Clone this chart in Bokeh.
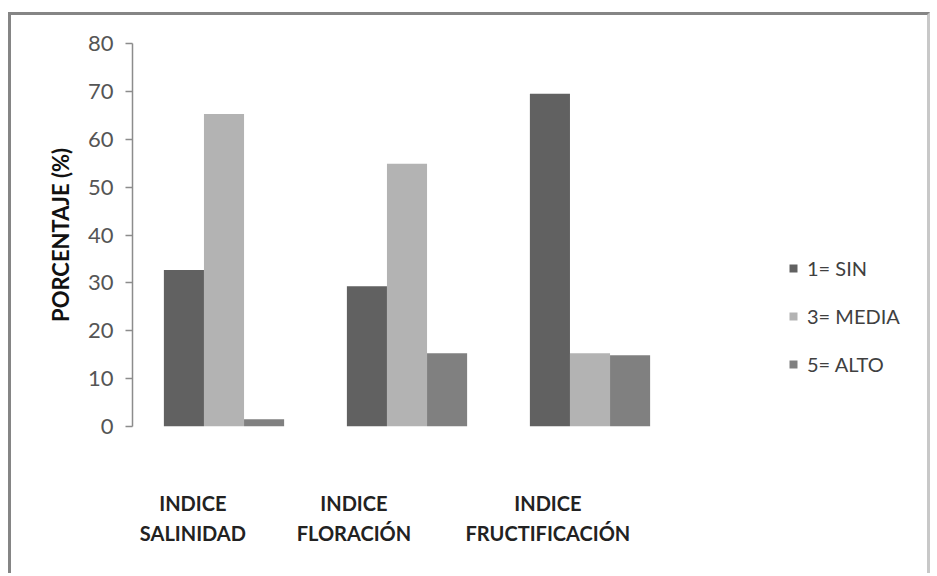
from bokeh.plotting import figure
from bokeh.models import Range1d, FixedTicker, Legend, LegendItem
from bokeh.embed import file_html
from bokeh.resources import INLINE

# Index groups along the x axis (two-line labels)
categories = ["INDICE\nSALINIDAD", "INDICE\nFLORACIÓN", "INDICE\nFRUCTIFICACIÓN"]

# Percentage of samples in each rating class
series_names = ["1= SIN", "3= MEDIA", "5= ALTO"]
sin_vals = [32.7, 29.3, 69.5]
media_vals = [65.3, 54.9, 15.3]
alto_vals = [1.5, 15.3, 14.9]

y_ticks = [0, 10, 20, 30, 40, 50, 60, 70, 80]

# styling
colors = ["#616161", "#b3b3b3", "#808080"]
bar_w = 0.219
offsets = [-bar_w, 0.0, bar_w]
label_nudge = [-0.17, -0.29, -0.23]
FONT = "Lato"

p = figure(
    width=922, height=561,
    output_backend="svg", toolbar_location=None,
    x_range=Range1d(0, 4.377), y_range=Range1d(0, 80),
    min_border_left=121, min_border_right=0,
    min_border_top=28, min_border_bottom=150,
)
p.margin = (12, 0, 0, 8)
p.styles = {
    "border-top": "3px solid #858585",
    "border-left": "3px solid #858585",
    "border-right": "3px solid #c8c8c8",
}
p.outline_line_color = None
p.xgrid.visible = False
p.ygrid.visible = False
p.background_fill_color = "white"
p.border_fill_color = "white"

items = []
for name, vals, off, col in zip(series_names, [sin_vals, media_vals, alto_vals], offsets, colors):
    xs = [i + 0.5 + off for i in range(len(vals))]
    r = p.vbar(x=xs, top=vals, width=bar_w, fill_color=col, line_color=None)
    items.append(LegendItem(label=name, renderers=[r]))

# y axis
ya = p.yaxis[0]
ya.ticker = FixedTicker(ticks=y_ticks)
ya.axis_line_color = "#8c8c8c"
ya.axis_line_width = 1.5
ya.major_tick_line_color = "#8c8c8c"
ya.major_tick_line_width = 1.5
ya.major_tick_in = 0
ya.major_tick_out = 7
ya.minor_tick_line_color = None
ya.major_label_standoff = 12
ya.major_label_text_font = FONT
ya.major_label_text_font_size = "22px"
ya.major_label_text_color = "#555555"
ya.axis_label = "PORCENTAJE (%)"
ya.axis_label_text_font = FONT
ya.axis_label_text_font_style = "bold"
ya.axis_label_text_font_size = "22px"
ya.axis_label_text_color = "#111111"
ya.axis_label_standoff = 11

# x axis: group labels only, no line or ticks
xa = p.xaxis[0]
tick_pos = [i + 0.5 + n for i, n in enumerate(label_nudge)]
xa.ticker = FixedTicker(ticks=tick_pos)
xa.major_label_overrides = {t: c for t, c in zip(tick_pos, categories)}
xa.axis_line_color = None
xa.major_tick_line_color = None
xa.minor_tick_line_color = None
xa.major_label_standoff = 58
xa.major_label_text_font = FONT
xa.major_label_text_font_style = "bold"
xa.major_label_text_font_size = "20px"
xa.major_label_text_color = "#222222"
xa.major_label_text_line_height = 1.25

legend = Legend(items=items, location=(656, 50))
legend.glyph_width = 10
legend.glyph_height = 10
legend.label_standoff = 9
legend.label_height = 20
legend.spacing = 24
legend.padding = 0
legend.margin = 0
legend.border_line_color = None
legend.background_fill_alpha = 0
legend.label_text_font = FONT
legend.label_text_font_size = "20px"
legend.label_text_color = "#404040"
p.add_layout(legend)

open("out.html", "w").write(file_html(p, INLINE))
